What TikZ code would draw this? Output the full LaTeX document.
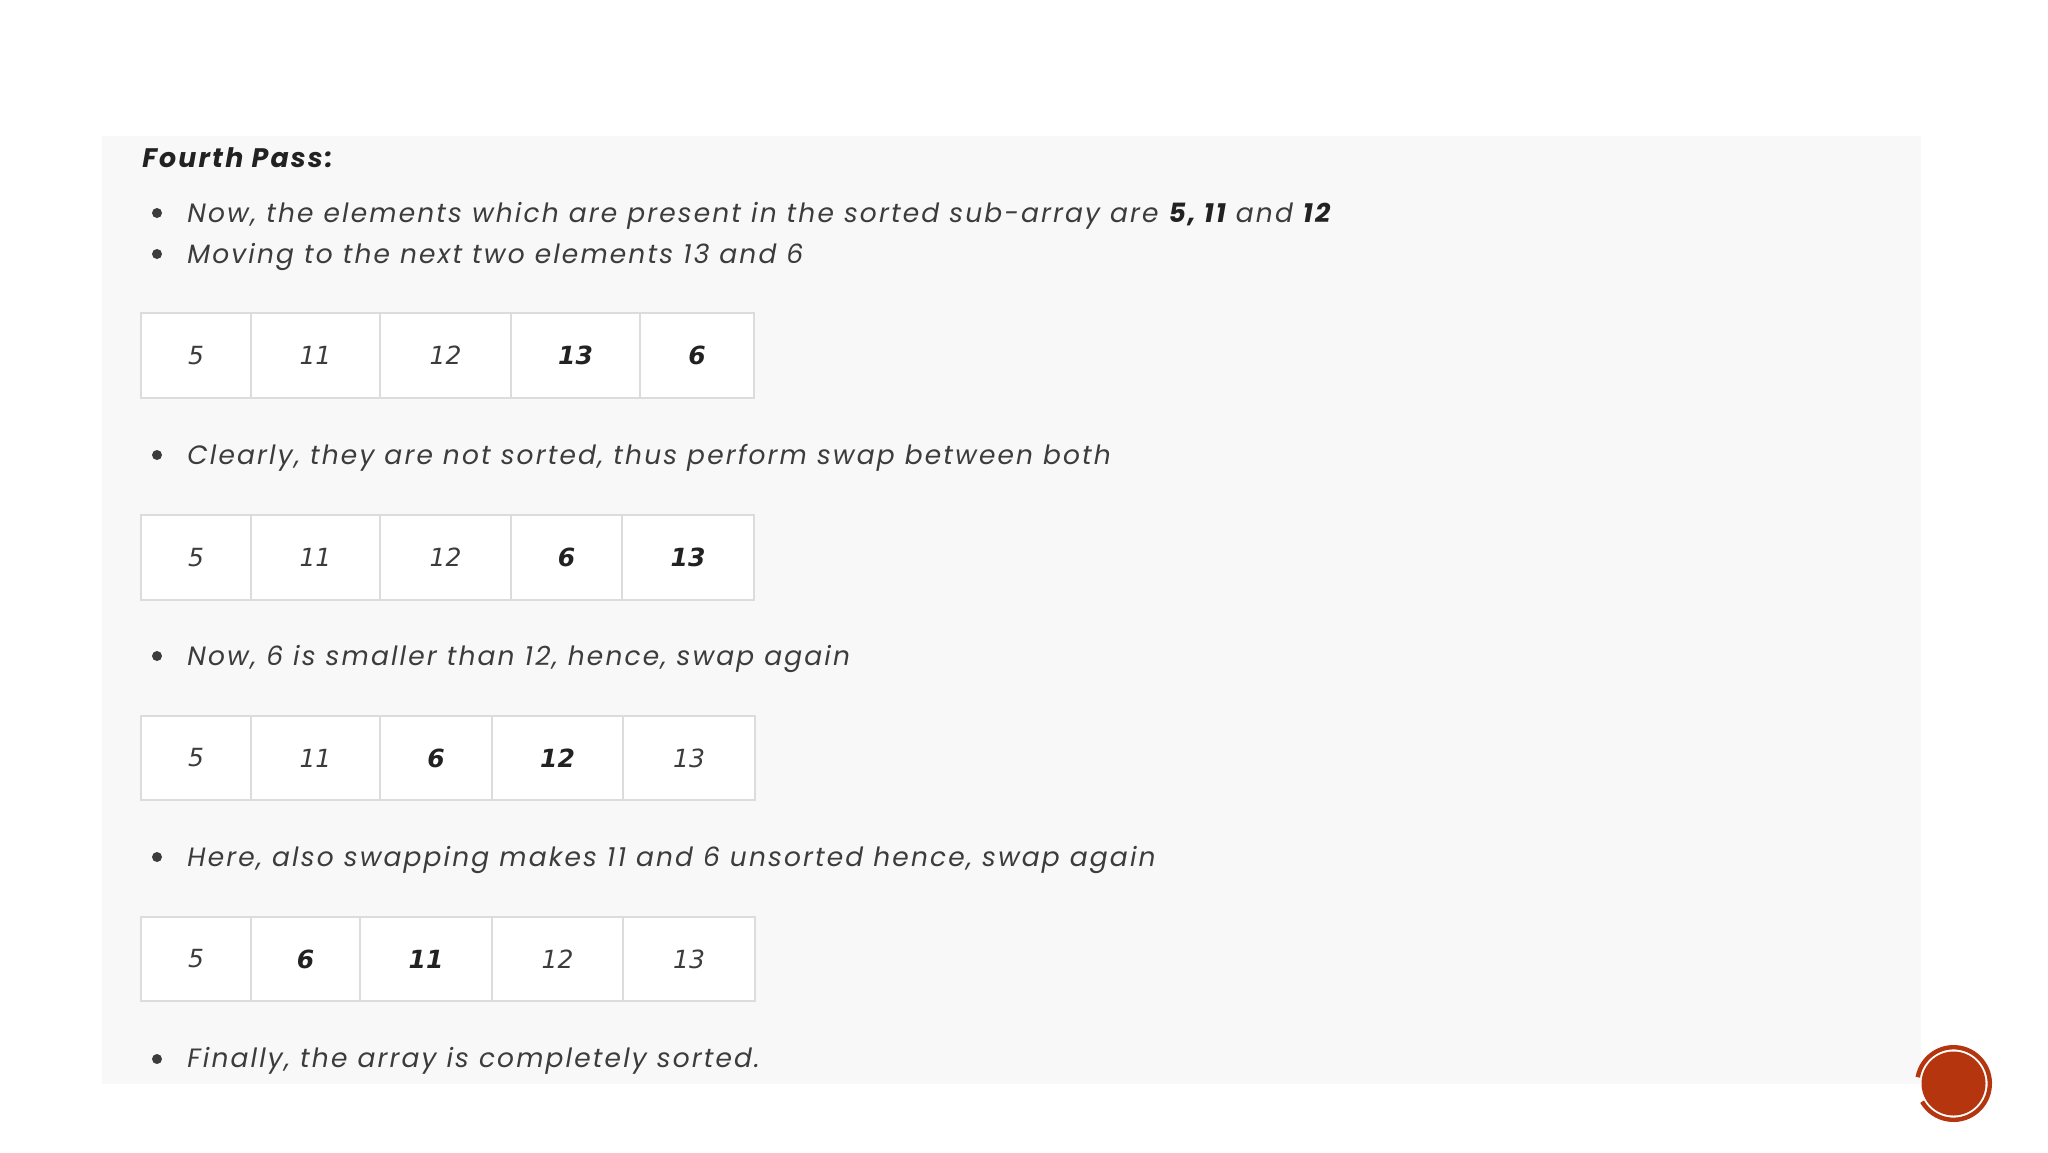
\documentclass[tikz,border=0pt]{standalone}
\usepackage{fontspec}
\setmainfont{Poppins}[LetterSpace=8]
\newfontfamily\numfont{DejaVu Sans}
\definecolor{panelc}{HTML}{F8F8F8}
\definecolor{gridc}{HTML}{DCDCDC}
\definecolor{txtc}{HTML}{3C3C3C}
\definecolor{boldc}{HTML}{222222}
\definecolor{logoc}{HTML}{B5350F}
\newcommand\bnum[1]{{\bfseries\color{boldc}#1}}
\tikzset{
  txt/.style={inner sep=0pt, anchor=base west, text=txtc, font=\fontsize{13.25}{15.9}\selectfont\itshape},
  bul/.style={circle, fill=txtc, inner sep=0pt, minimum size=5pt},
  cell/.style={draw=gridc, line width=0.75pt, fill=white, inner sep=0pt, text=txtc,
    font=\numfont\fontsize{12.5}{15}\selectfont\itshape},
}
\begin{document}
\begin{tikzpicture}[x=0.5pt,y=-0.5pt]
\useasboundingbox[fill=white] (0,0) rectangle (2048,1152);
\fill[panelc] (102,136) rectangle (1921,1084);

\node[txt, text=boldc, font=\fontsize{13.4}{16}\selectfont\bfseries\itshape] (title) at (142,167) {Fourth Pass:};

\node[bul] (b1) at (157,213) {};
\node[txt] (l1) at (187,222) {Now, the elements which are present in the sorted sub-array are \bnum{5, 11} and \bnum{12}};
\node[bul] (b2) at (157,254) {};
\node[txt] (l2) at (187,263) {Moving to the next two elements 13 and 6};

\foreach \i/\a/\b/\t in {1/141/251/5,2/251/380/11,3/380/511/12,4/511/640/\bnum{13},5/640/754/\bnum{6}}{
  \node[cell, minimum width={(\b-\a)*0.5pt}, minimum height=42.5pt] (ta\i) at ({(\a+\b)/2},355.5) {\t};
}

\node[bul] (b3) at (157,455) {};
\node[txt] (l3) at (187,464) {Clearly, they are not sorted, thus perform swap between both};

\foreach \i/\a/\b/\t in {1/141/251/5,2/251/380/11,3/380/511/12,4/511/622/\bnum{6},5/622/754/\bnum{13}}{
  \node[cell, minimum width={(\b-\a)*0.5pt}, minimum height=42.5pt] (tb\i) at ({(\a+\b)/2},557.5) {\t};
}

\node[bul] (b4) at (157,656) {};
\node[txt] (l4) at (187,665) {Now, 6 is smaller than 12, hence, swap again};

\foreach \i/\a/\b/\t in {1/141/251/5,2/251/380/11,3/380/492/\bnum{6},4/492/623/\bnum{12},5/623/755/13}{
  \node[cell, minimum width={(\b-\a)*0.5pt}, minimum height=42pt] (tc\i) at ({(\a+\b)/2},758) {\t};
}

\node[bul] (b5) at (157,857) {};
\node[txt] (l5) at (187,866) {Here, also swapping makes 11 and 6 unsorted hence, swap again};

\foreach \i/\a/\b/\t in {1/141/251/5,2/251/360/\bnum{6},3/360/492/\bnum{11},4/492/623/12,5/623/755/13}{
  \node[cell, minimum width={(\b-\a)*0.5pt}, minimum height=42pt] (td\i) at ({(\a+\b)/2},959) {\t};
}

\node[bul] (b6) at (157,1059) {};
\node[txt] (l6) at (187,1067) {Finally, the array is completely sorted.};

% logo
\fill[logoc] (1953.5,1083.5) circle[radius=32];
\draw[logoc, line width=2.2pt] (1953.5,1083.5) ++(-170:36.3) arc[start angle=-170, end angle=150, radius=36.3];
\end{tikzpicture}
\end{document}
